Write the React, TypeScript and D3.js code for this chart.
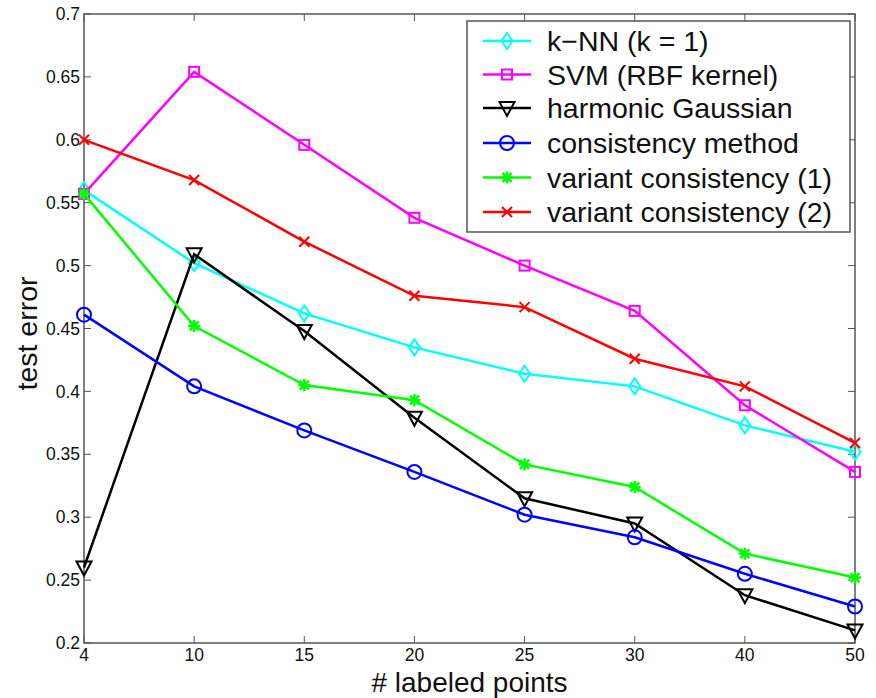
import React from 'react';
import * as d3 from 'd3';

// labeled-point counts on the x axis (evenly spaced, categorical)
const xLabels = ['4', '10', '15', '20', '25', '30', '40', '50'];
const yTicks = [0.2, 0.25, 0.3, 0.35, 0.4, 0.45, 0.5, 0.55, 0.6, 0.65, 0.7];

const knn = [0.56, 0.502, 0.462, 0.435, 0.414, 0.404, 0.373, 0.352];
const svm = [0.557, 0.654, 0.596, 0.538, 0.5, 0.464, 0.389, 0.336];
const harmonic = [0.26, 0.509, 0.448, 0.379, 0.315, 0.295, 0.238, 0.21];
const consistency = [0.461, 0.404, 0.369, 0.336, 0.302, 0.284, 0.255, 0.229];
const variant1 = [0.557, 0.452, 0.405, 0.393, 0.342, 0.324, 0.271, 0.252];
const variant2 = [0.6, 0.568, 0.519, 0.476, 0.467, 0.426, 0.404, 0.359];

const seriesNames = [
  'k\u2212NN (k = 1)',
  'SVM (RBF kernel)',
  'harmonic Gaussian',
  'consistency method',
  'variant consistency (1)',
  'variant consistency (2)',
];

const series = [
  { name: seriesNames[0], values: knn, color: '#00ffff', marker: 'diamond' },
  { name: seriesNames[1], values: svm, color: '#ff00ff', marker: 'square' },
  { name: seriesNames[2], values: harmonic, color: '#000000', marker: 'triangle' },
  { name: seriesNames[3], values: consistency, color: '#0000ff', marker: 'circle' },
  { name: seriesNames[4], values: variant1, color: '#00ff00', marker: 'star' },
  { name: seriesNames[5], values: variant2, color: '#ff0000', marker: 'x' },
];

const W = 876;
const H = 698;
const margin = { left: 84, right: 20, top: 14, bottom: 55 };
const FONT = 'Arial, "Liberation Sans", Helvetica, sans-serif';

const Marker = ({ type, x, y, color }: { type: string; x: number; y: number; color: string }) => {
  const sw = 2;
  switch (type) {
    case 'diamond':
      return <path d={`M${x},${y - 8}L${x + 5.5},${y}L${x},${y + 8}L${x - 5.5},${y}Z`} fill="none" stroke={color} strokeWidth={sw} />;
    case 'square':
      return <rect x={x - 5} y={y - 5} width={10} height={10} fill="none" stroke={color} strokeWidth={sw} />;
    case 'triangle':
      return <path d={`M${x - 7.5},${y - 6}L${x + 7.5},${y - 6}L${x},${y + 8}Z`} fill="none" stroke={color} strokeWidth={sw} />;
    case 'circle':
      return <circle cx={x} cy={y} r={7} fill="none" stroke={color} strokeWidth={sw} />;
    case 'star':
      return (
        <g stroke={color} strokeWidth={2.5}>
          <line x1={x - 6} y1={y} x2={x + 6} y2={y} />
          <line x1={x} y1={y - 6} x2={x} y2={y + 6} />
          <line x1={x - 4.5} y1={y - 4.5} x2={x + 4.5} y2={y + 4.5} />
          <line x1={x - 4.5} y1={y + 4.5} x2={x + 4.5} y2={y - 4.5} />
        </g>
      );
    case 'x':
      return (
        <g stroke={color} strokeWidth={2}>
          <line x1={x - 5} y1={y - 5} x2={x + 5} y2={y + 5} />
          <line x1={x - 5} y1={y + 5} x2={x + 5} y2={y - 5} />
        </g>
      );
    default:
      return null;
  }
};

const App = () => {
  const x = d3.scalePoint<string>().domain(xLabels).range([margin.left, W - margin.right - 1]);
  const y = d3.scaleLinear().domain([0.2, 0.7]).range([H - margin.bottom, margin.top]);
  const line = d3.line<number>()
    .x((_, i) => x(xLabels[i]) as number)
    .y(d => y(d));

  const x0 = margin.left;
  const x1 = W - margin.right - 1;
  const y0 = H - margin.bottom;
  const y1 = margin.top;
  const axisColor = '#555';

  const legend = { x: 467, y: 21, w: 383, h: 211 };
  const rowY = [41, 74.5, 108, 143, 177.5, 212];

  return (
    <svg width={W} height={H} style={{ position: 'absolute', left: 0, top: 0, background: '#fff' }} fontFamily={FONT}>
      <rect x={0} y={0} width={W} height={H} fill="#fff" />
      {/* box */}
      <rect x={x0} y={y1} width={x1 - x0} height={y0 - y1} fill="none" stroke={axisColor} strokeWidth={1.5} />
      {/* y ticks */}
      {yTicks.map(t => (
        <g key={t}>
          <line x1={x0} x2={x0 + 7} y1={y(t)} y2={y(t)} stroke={axisColor} strokeWidth={1} />
          <line x1={x1} x2={x1 - 7} y1={y(t)} y2={y(t)} stroke={axisColor} strokeWidth={1} />
          <text x={x0 - 4} y={y(t)} dy="0.35em" textAnchor="end" fontSize={17.5} fill="#111">{d3.format('')(t)}</text>
        </g>
      ))}
      {/* x ticks */}
      {xLabels.map(l => (
        <g key={l}>
          <line x1={x(l)} x2={x(l)} y1={y0} y2={y0 - 7} stroke={axisColor} strokeWidth={1} />
          <line x1={x(l)} x2={x(l)} y1={y1} y2={y1 + 7} stroke={axisColor} strokeWidth={1} />
          <text x={x(l)} y={y0 + 18} textAnchor="middle" fontSize={17.5} fill="#111">{l}</text>
        </g>
      ))}
      <text x={(x0 + x1) / 2} y={692} textAnchor="middle" fontSize={28} fill="#111"># labeled points</text>
      <text transform={`translate(37,${(y0 + y1) / 2 + 5}) rotate(-90)`} textAnchor="middle" fontSize={28.5} fill="#111">test error</text>

      {/* series */}
      {series.map(s => (
        <g key={s.name}>
          <path d={line(s.values) || ''} fill="none" stroke={s.color} strokeWidth={2.5} />
          {s.values.map((v, i) => (
            <Marker key={i} type={s.marker} x={x(xLabels[i]) as number} y={y(v)} color={s.color} />
          ))}
        </g>
      ))}

      {/* legend */}
      <rect x={legend.x} y={legend.y} width={legend.w} height={legend.h} fill="#fff" stroke={axisColor} strokeWidth={1.5} />
      {series.map((s, i) => (
        <g key={s.name}>
          <line x1={483} x2={531} y1={rowY[i]} y2={rowY[i]} stroke={s.color} strokeWidth={2.5} />
          <Marker type={s.marker} x={507} y={rowY[i]} color={s.color} />
          <text x={547} y={rowY[i]} dy="0.36em" fontSize={28.5} fill="#111">{s.name}</text>
        </g>
      ))}
    </svg>
  );
};

export default App;
